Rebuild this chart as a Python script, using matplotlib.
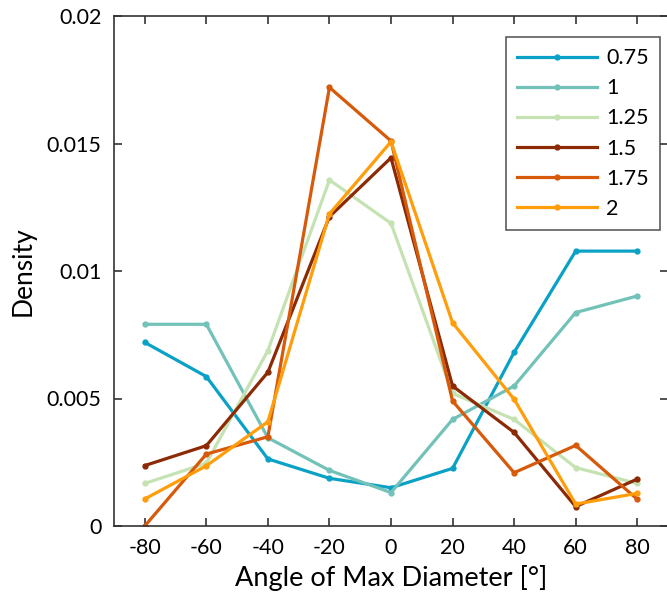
import matplotlib
matplotlib.use('Agg')
import matplotlib.pyplot as plt

plt.rcParams['font.family'] = ['Lato', 'DejaVu Sans']
plt.rcParams['axes.unicode_minus'] = False

# angle bins (deg)
angles = [-80, -60, -40, -20, 0, 20, 40, 60, 80]

# density per series
d_075 = [0.0072, 0.00586, 0.00263, 0.00187, 0.0015, 0.00226, 0.00681, 0.01078, 0.01078]
d_100 = [0.00791, 0.00791, 0.00346, 0.00218, 0.00131, 0.00418, 0.00549, 0.00837, 0.00902]
d_125 = [0.00167, 0.00246, 0.00688, 0.01357, 0.01187, 0.0052, 0.00418, 0.00229, 0.00167]
d_150 = [0.00237, 0.00315, 0.00603, 0.01213, 0.01444, 0.00549, 0.00367, 0.00076, 0.00184]
d_175 = [0.0, 0.00282, 0.0035, 0.0172, 0.0151, 0.0049, 0.00209, 0.00316, 0.00105]
d_200 = [0.00106, 0.00236, 0.00409, 0.01224, 0.01507, 0.00797, 0.00497, 0.00086, 0.00128]

labels = ['0.75', '1', '1.25', '1.5', '1.75', '2']
series = [d_075, d_100, d_125, d_150, d_175, d_200]
colors = ['#0aa1c6', '#72c2b9', '#c5e2b3', '#8b2a05', '#d65a0a', '#ff9d0a']

fig = plt.figure(figsize=(6.67, 6.02), dpi=100)
ax = fig.add_axes([114/667, 1 - 526/602, 554/667, 510/602])

for y, lab, c in zip(series, labels, colors):
    ax.plot(angles, y, color=c, lw=2.3, marker='o', ms=3.5, label=lab)

ax.set_xlim(-90, 90)
ax.set_ylim(0, 0.02)
ax.set_xticks(angles)
ax.set_yticks([0, 0.005, 0.01, 0.015, 0.02])
ax.set_yticklabels(['0', '0.005', '0.01', '0.015', '0.02'])
ax.tick_params(direction='in', length=6, width=1.2, labelsize=15.5,
               top=True, right=True, color='#333333', pad=9)
for s in ax.spines.values():
    s.set_color('#333333')
    s.set_linewidth(1.2)

ax.set_xlabel('Angle of Max Diameter [°]', fontsize=19.5, labelpad=5)
ax.set_ylabel('Density', fontsize=19, labelpad=8)

leg = ax.legend(loc='upper right', bbox_to_anchor=(0.985, 0.958), fontsize=15.5,
                handlelength=3.7, numpoints=1, frameon=True, fancybox=False,
                borderpad=0.5, labelspacing=0.47, handletextpad=0.45,
                borderaxespad=0)
leg.get_frame().set_edgecolor('#333333')
leg.get_frame().set_linewidth(1.2)

fig.savefig('out.png', dpi=100)
